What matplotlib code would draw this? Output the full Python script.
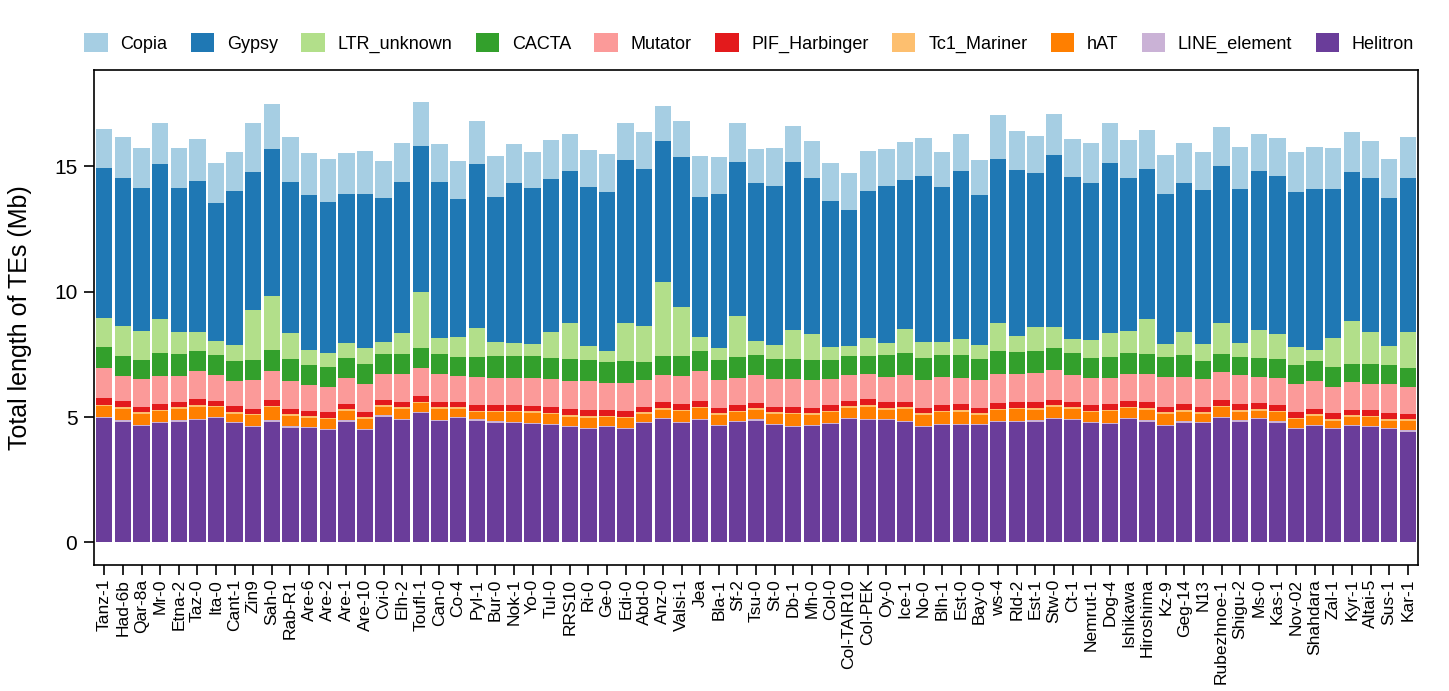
import numpy as np
import matplotlib
matplotlib.use('Agg')
import matplotlib.pyplot as plt
from matplotlib.patches import Patch

plt.rcParams['font.family'] = ['Liberation Sans', 'DejaVu Sans']

accessions = ['Tanz-1', 'Had-6b', 'Qar-8a', 'Mr-0', 'Etna-2', 'Taz-0', 'Ita-0', 'Cant-1', 'Zin9', 'Sah-0',
              'Rab-R1', 'Are-6', 'Are-2', 'Are-1', 'Are-10', 'Cvi-0', 'Elh-2', 'Toufl-1', 'Can-0', 'Co-4',
              'Pyl-1', 'Bur-0', 'Nok-1', 'Yo-0', 'Tul-0', 'RRS10', 'Ri-0', 'Ge-0', 'Edi-0', 'Abd-0',
              'Anz-0', 'Valsi-1', 'Jea', 'Bla-1', 'Sf-2', 'Tsu-0', 'St-0', 'Db-1', 'Mh-0', 'Col-0',
              'Col-TAIR10', 'Col-PEK', 'Oy-0', 'Ice-1', 'No-0', 'Blh-1', 'Est-0', 'Bay-0', 'ws-4', 'Rld-2',
              'Est-1', 'Stw-0', 'Ct-1', 'Nemrut-1', 'Dog-4', 'Ishikawa', 'Hiroshima', 'Kz-9', 'Geg-14', 'N13',
              'Rubezhnoe-1', 'Shigu-2', 'Ms-0', 'Kas-1', 'Nov-02', 'Shahdara', 'Zal-1', 'Kyr-1', 'Altai-5', 'Sus-1',
              'Kar-1']

# lengths in Mb
helitron = [4.95, 4.81, 4.64, 4.75, 4.81, 4.88, 4.95, 4.75, 4.59, 4.81,
            4.57, 4.57, 4.48, 4.81, 4.48, 5.01, 4.88, 5.15, 4.84, 4.95,
            4.85, 4.77, 4.75, 4.71, 4.67, 4.59, 4.52, 4.59, 4.52, 4.75,
            4.92, 4.75, 4.88, 4.64, 4.79, 4.85, 4.68, 4.59, 4.64, 4.72,
            4.91, 4.88, 4.88, 4.79, 4.59, 4.68, 4.68, 4.68, 4.79, 4.79,
            4.81, 4.92, 4.88, 4.75, 4.71, 4.92, 4.81, 4.64, 4.77, 4.75,
            4.95, 4.81, 4.91, 4.77, 4.51, 4.64, 4.51, 4.64, 4.59, 4.51, 4.41]
line_element = [0.06, 0.06, 0.05, 0.06, 0.06, 0.06, 0.05, 0.06, 0.06, 0.06,
                0.06, 0.05, 0.06, 0.06, 0.06, 0.05, 0.06, 0.06, 0.06, 0.05,
                0.06, 0.06, 0.06, 0.06, 0.06, 0.06, 0.05, 0.06, 0.06, 0.06,
                0.06, 0.06, 0.06, 0.05, 0.06, 0.06, 0.06, 0.06, 0.06, 0.06,
                0.06, 0.06, 0.05, 0.06, 0.06, 0.06, 0.06, 0.06, 0.06, 0.06,
                0.06, 0.06, 0.06, 0.06, 0.06, 0.05, 0.06, 0.06, 0.06, 0.06,
                0.06, 0.06, 0.05, 0.06, 0.06, 0.06, 0.06, 0.06, 0.06, 0.06, 0.06]
hat = [0.42, 0.45, 0.42, 0.42, 0.45, 0.47, 0.38, 0.31, 0.41, 0.51,
       0.42, 0.35, 0.38, 0.38, 0.38, 0.35, 0.38, 0.34, 0.42, 0.31,
       0.28, 0.35, 0.38, 0.39, 0.37, 0.37, 0.41, 0.34, 0.37, 0.31,
       0.31, 0.41, 0.41, 0.39, 0.34, 0.38, 0.38, 0.45, 0.39, 0.41,
       0.39, 0.47, 0.35, 0.47, 0.43, 0.45, 0.47, 0.34, 0.41, 0.45,
       0.42, 0.43, 0.38, 0.38, 0.45, 0.37, 0.42, 0.42, 0.38, 0.31,
       0.38, 0.34, 0.29, 0.35, 0.35, 0.35, 0.29, 0.31, 0.34, 0.29, 0.38]
tc1_mariner = [0.06, 0.06, 0.07, 0.06, 0.06, 0.06, 0.06, 0.07, 0.06, 0.06,
               0.06, 0.06, 0.06, 0.06, 0.07, 0.06, 0.06, 0.06, 0.06, 0.07,
               0.06, 0.06, 0.06, 0.06, 0.06, 0.07, 0.06, 0.06, 0.06, 0.06,
               0.06, 0.06, 0.06, 0.07, 0.06, 0.06, 0.06, 0.06, 0.06, 0.06,
               0.06, 0.06, 0.07, 0.06, 0.06, 0.06, 0.06, 0.06, 0.06, 0.06,
               0.06, 0.06, 0.06, 0.06, 0.06, 0.06, 0.06, 0.06, 0.07, 0.06,
               0.06, 0.06, 0.06, 0.06, 0.06, 0.06, 0.06, 0.06, 0.06, 0.06, 0.06]
pif_harbinger = [0.25, 0.24, 0.23, 0.23, 0.23, 0.23, 0.21, 0.23, 0.21, 0.24,
                 0.21, 0.20, 0.21, 0.21, 0.21, 0.21, 0.23, 0.24, 0.23, 0.22,
                 0.23, 0.22, 0.22, 0.22, 0.23, 0.22, 0.22, 0.22, 0.22, 0.21,
                 0.23, 0.23, 0.24, 0.22, 0.24, 0.22, 0.23, 0.22, 0.22, 0.23,
                 0.22, 0.24, 0.23, 0.22, 0.22, 0.24, 0.25, 0.22, 0.23, 0.22,
                 0.23, 0.22, 0.22, 0.23, 0.22, 0.24, 0.23, 0.23, 0.23, 0.22,
                 0.24, 0.23, 0.23, 0.23, 0.21, 0.22, 0.22, 0.22, 0.22, 0.22, 0.22]
mutator = [1.20, 1.02, 1.09, 1.13, 1.04, 1.13, 1.04, 1.00, 1.16, 1.16,
           1.13, 1.05, 1.01, 1.02, 1.12, 1.02, 1.09, 1.10, 1.09, 1.02,
           1.10, 1.10, 1.10, 1.10, 1.12, 1.13, 1.16, 1.09, 1.13, 1.09,
           1.09, 1.13, 1.17, 1.12, 1.06, 1.09, 1.10, 1.12, 1.12, 1.02,
           1.02, 1.00, 1.02, 1.09, 1.13, 1.09, 1.04, 1.13, 1.16, 1.12,
           1.16, 1.17, 1.09, 1.06, 1.04, 1.06, 1.12, 1.17, 1.10, 1.10,
           1.10, 1.17, 1.04, 1.10, 1.13, 1.10, 1.06, 1.10, 1.06, 1.16, 1.06]
cacta = [0.85, 0.80, 0.77, 0.90, 0.85, 0.80, 0.80, 0.80, 0.80, 0.82,
         0.85, 0.80, 0.78, 0.80, 0.81, 0.82, 0.81, 0.82, 0.80, 0.77,
         0.82, 0.86, 0.86, 0.89, 0.84, 0.86, 0.86, 0.84, 0.86, 0.72,
         0.77, 0.81, 0.82, 0.80, 0.84, 0.80, 0.82, 0.80, 0.80, 0.76,
         0.76, 0.73, 0.86, 0.86, 0.88, 0.88, 0.90, 0.81, 0.94, 0.90,
         0.90, 0.89, 0.86, 0.80, 0.86, 0.84, 0.81, 0.82, 0.86, 0.74,
         0.73, 0.73, 0.77, 0.76, 0.76, 0.80, 0.80, 0.73, 0.80, 0.77, 0.77]
ltr_unknown = [1.17, 1.17, 1.17, 1.34, 0.90, 0.77, 0.53, 0.64, 1.97, 2.17,
               1.05, 0.59, 0.56, 0.60, 0.64, 0.47, 0.82, 2.23, 0.64, 0.80,
               1.16, 0.55, 0.53, 0.48, 1.04, 1.44, 0.55, 0.43, 1.54, 1.41,
               2.95, 1.94, 0.53, 0.47, 1.65, 0.57, 0.53, 1.17, 1.02, 0.53,
               0.41, 0.70, 0.49, 0.96, 0.63, 0.53, 0.66, 0.56, 1.09, 0.63,
               0.93, 0.84, 0.57, 0.73, 0.94, 0.89, 1.41, 0.52, 0.92, 0.65,
               1.24, 0.56, 1.10, 0.98, 0.70, 0.43, 1.13, 1.72, 1.25, 0.77, 1.41]
gypsy = [5.98, 5.92, 5.68, 6.18, 5.72, 6.02, 5.51, 6.14, 5.52, 5.86,
         6.01, 6.16, 6.02, 5.94, 6.10, 5.74, 6.02, 5.82, 6.22, 5.51,
         6.52, 5.80, 6.37, 6.22, 6.10, 6.05, 6.32, 6.32, 6.48, 6.29,
         5.61, 5.98, 5.60, 6.12, 6.13, 6.30, 6.36, 6.69, 6.21, 5.81,
         5.41, 5.85, 6.26, 5.93, 6.61, 6.18, 6.68, 5.98, 6.56, 6.61,
         6.17, 6.85, 6.45, 6.25, 6.80, 6.08, 5.97, 5.97, 5.94, 6.16,
         6.26, 6.14, 6.36, 6.30, 6.18, 6.42, 5.96, 5.92, 6.14, 5.88, 6.14]
copia = [1.53, 1.62, 1.60, 1.66, 1.60, 1.65, 1.61, 1.57, 1.94, 1.80,
         1.80, 1.70, 1.73, 1.66, 1.74, 1.49, 1.56, 1.73, 1.53, 1.50,
         1.70, 1.65, 1.57, 1.42, 1.57, 1.50, 1.49, 1.53, 1.46, 1.44,
         1.40, 1.41, 1.65, 1.50, 1.53, 1.34, 1.52, 1.45, 1.49, 1.53,
         1.49, 1.60, 1.49, 1.52, 1.53, 1.41, 1.46, 1.40, 1.73, 1.57,
         1.46, 1.62, 1.53, 1.60, 1.57, 1.52, 1.56, 1.56, 1.61, 1.52,
         1.53, 1.65, 1.48, 1.50, 1.62, 1.69, 1.62, 1.58, 1.49, 1.58, 1.66]

# stacking order, bottom to top (Paired palette)
layers = [('Helitron', helitron, '#6a3d9a'),
          ('LINE_element', line_element, '#cab2d6'),
          ('hAT', hat, '#ff7f00'),
          ('Tc1_Mariner', tc1_mariner, '#fdbf6f'),
          ('PIF_Harbinger', pif_harbinger, '#e31a1c'),
          ('Mutator', mutator, '#fb9a99'),
          ('CACTA', cacta, '#33a02c'),
          ('LTR_unknown', ltr_unknown, '#b2df8a'),
          ('Gypsy', gypsy, '#1f78b4'),
          ('Copia', copia, '#a6cee3')]

fig = plt.figure(figsize=(14.49, 6.91), dpi=100)
ax = fig.add_axes([0.0649, 0.1823, 0.9137, 0.7171])

x = np.arange(len(accessions))
bottom = np.zeros(len(x))
for name, vals, col in layers:
    ax.bar(x, vals, width=0.88, bottom=bottom, color=col, linewidth=0)
    bottom += np.array(vals)

ax.set_xlim(-0.55, len(x) - 0.45)
ax.set_ylim(-0.9, 18.85)
ax.set_yticks([0, 5, 10, 15])
ax.set_xticks(x)
ax.set_xticklabels(accessions, rotation=90, fontsize=12.5)
ax.tick_params(axis='y', labelsize=15, length=7, width=1.2, pad=5)
ax.tick_params(axis='x', length=7, width=1.2, pad=3)
ax.set_ylabel('Total length of TEs (Mb)', fontsize=18, labelpad=16)
for s in ax.spines.values():
    s.set_linewidth(1.2)

handles = [Patch(facecolor=col, label=name) for name, vals, col in layers[::-1]]
fig.legend(handles=handles, loc='center', bbox_to_anchor=(0.517, 0.938), ncol=10,
           frameon=False, fontsize=13, handlelength=1.3, handleheight=1.3,
           handletextpad=0.7, columnspacing=1.3)

fig.savefig('out.png', dpi=100)
